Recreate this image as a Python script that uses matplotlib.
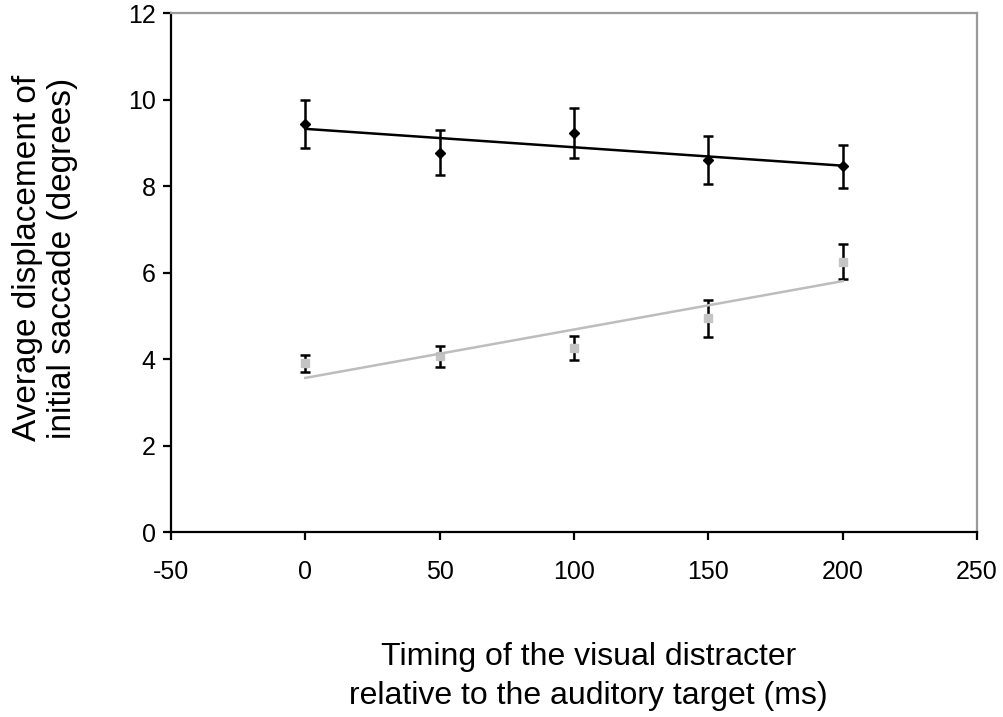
import numpy as np
import matplotlib
matplotlib.use('Agg')
import matplotlib.pyplot as plt

plt.rcParams['font.family'] = ['Liberation Sans', 'DejaVu Sans']

# timing of the visual distracter (ms)
timing = [0, 50, 100, 150, 200]

# black diamonds
disp_black = [9.44, 8.78, 9.23, 8.61, 8.46]
err_black = [0.55, 0.52, 0.58, 0.55, 0.49]

# grey squares
disp_grey = [3.90, 4.07, 4.25, 4.95, 6.26]
err_grey = [0.20, 0.24, 0.28, 0.43, 0.41]

xticks = [-50, 0, 50, 100, 150, 200, 250]
yticks = [0, 2, 4, 6, 8, 10, 12]

fig = plt.figure(figsize=(10.04, 7.17), dpi=100)
ax = fig.add_axes([0.1703, 0.258, 0.8028, 0.7232])

x = np.array(timing)

# --- error bars + markers
ax.errorbar(timing, disp_grey, yerr=err_grey, fmt='s', ms=6, mfc='#c4c4c4', mec='#c4c4c4',
            ecolor='k', elinewidth=1.8, capsize=3.5, capthick=1.8, zorder=2)
ax.errorbar(timing, disp_black, yerr=err_black, fmt='D', ms=5, mfc='k', mec='k',
            ecolor='k', elinewidth=1.8, capsize=3.5, capthick=1.8, zorder=2)

# --- linear trend lines
for ys, c in [(disp_grey, '#bdbdbd'), (disp_black, 'k')]:
    m, b = np.polyfit(x, ys, 1)
    ax.plot(x, m * x + b, c=c, lw=1.8, zorder=3)

ax.set_xlim(-50, 250)
ax.set_ylim(0, 12)
ax.set_xticks(xticks)
ax.set_yticks(yticks)
ax.set_xticklabels([str(t) for t in xticks])

for s in ['left', 'bottom']:
    ax.spines[s].set_color('k')
    ax.spines[s].set_linewidth(1.6)
for s in ['top', 'right']:
    ax.spines[s].set_color('#9a9a9a')
    ax.spines[s].set_linewidth(1.6)

ax.tick_params(direction='out', length=6, width=1.6, labelsize=18, colors='k')
ax.tick_params(axis='x', pad=14)
ax.tick_params(axis='y', pad=5)

fig.text(0.586, 0.057, 'Timing of the visual distracter\nrelative to the auditory target (ms)',
         ha='center', va='center', fontsize=23, linespacing=1.38, multialignment='center')
fig.text(0.045, 0.64, 'Average displacement of\ninitial saccade (degrees)',
         ha='center', va='center', rotation=90, fontsize=24, linespacing=1.15,
         multialignment='center')

plt.savefig('out.png', dpi=100)
